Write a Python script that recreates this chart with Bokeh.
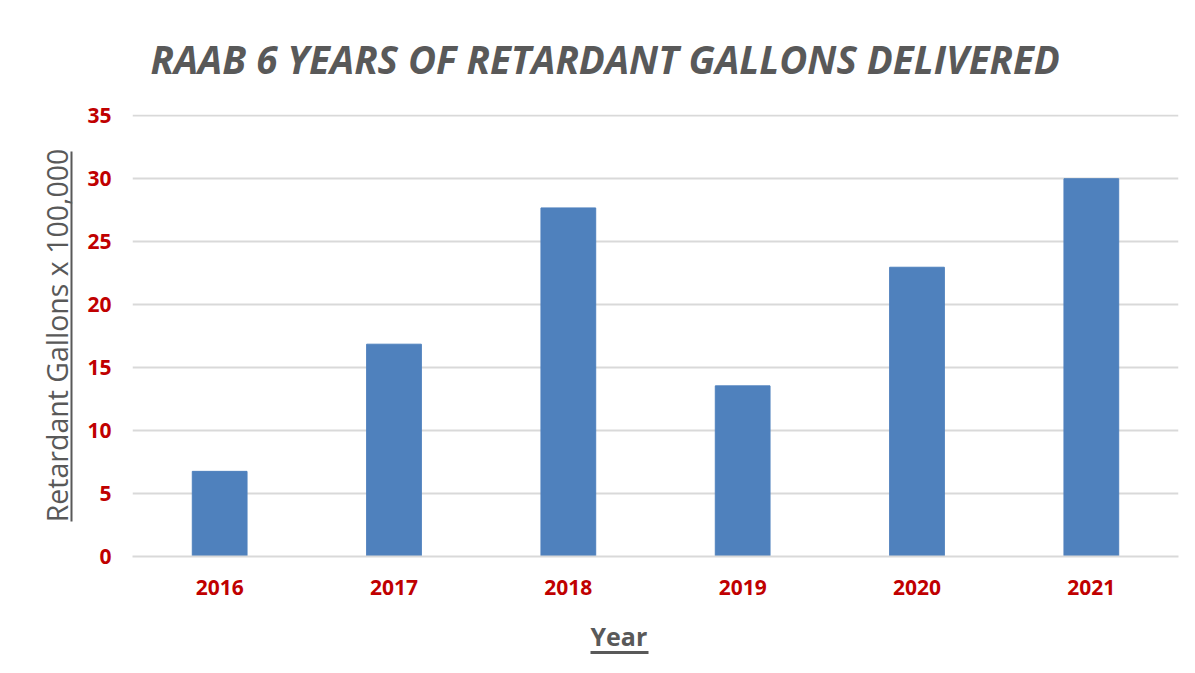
from bokeh.plotting import figure
from bokeh.models import FactorRange, Range1d, FixedTicker, LinearAxis, Title
from bokeh.embed import file_html
from bokeh.resources import INLINE

years = ["2016", "2017", "2018", "2019", "2020", "2021"]
gallons = [6.76, 16.86, 27.68, 13.55, 22.97, 30.0]
y_ticks = [0, 5, 10, 15, 20, 25, 30, 35]

title_text = "RAAB 6 YEARS OF RETARDANT GALLONS DELIVERED"
y_label = "Retardant Gallons x 100,000"
x_label = "Year"

BAR = "#4F81BD"
GRID = "#D9D9D9"
RED = "#C00000"
GRAY = "#595959"
TFONT = "'Liberation Sans Narrow', 'Open Sans', sans-serif"

p = figure(width=1190, height=668, x_range=FactorRange(*years), y_range=Range1d(0, 35.1),
           output_backend="svg", toolbar_location=None,
           min_border_left=132, min_border_right=12, min_border_top=114, min_border_bottom=112)
p.outline_line_color = None
p.background_fill_color = "white"
p.border_fill_color = "white"
p.extra_y_ranges = {"ul": Range1d(0, 35.1)}

p.vbar(x=years, top=gallons, width=0.314, fill_color=BAR, line_color=BAR, line_width=1)

p.ygrid.ticker = FixedTicker(ticks=y_ticks)
p.yaxis.ticker = FixedTicker(ticks=y_ticks)
p.ygrid.grid_line_color = GRID
p.ygrid.grid_line_width = 2
p.xgrid.grid_line_color = None

for ax in (p.xaxis, p.yaxis):
    ax.major_tick_line_color = None
    ax.minor_tick_line_color = None
    ax.major_tick_out = 0
    ax.major_tick_in = 0
    ax.major_label_text_color = RED
    ax.major_label_text_font = "Open Sans"
    ax.major_label_text_font_style = "bold"
    ax.major_label_text_font_size = "21px"
p.yaxis.axis_line_color = None
p.xaxis.axis_line_color = GRID
p.xaxis.axis_line_width = 2
p.yaxis.major_label_standoff = 21
p.xaxis.major_label_standoff = 23


def spacer_axis(gap, **kw):
    # an empty axis used only to leave a gap between panels
    return LinearAxis(ticker=FixedTicker(ticks=[]), axis_line_color=None,
                      major_tick_out=0, major_tick_in=0, major_tick_line_color=None,
                      minor_tick_line_color=None, axis_label=" ",
                      axis_label_text_font_size="2px", axis_label_standoff=gap, **kw)


p.add_layout(spacer_axis(8, y_range_name="ul"), "left")

# y label with its underline (axis rule limited by bounds)
yl = LinearAxis(y_range_name="ul", ticker=FixedTicker(ticks=[]), bounds=(2.76, 32.19),
                axis_line_color=GRAY, axis_line_width=2,
                major_tick_out=0, major_tick_in=0, major_tick_line_color=None,
                minor_tick_line_color=None,
                axis_label=y_label, axis_label_standoff=-4,
                axis_label_text_font="Open Sans", axis_label_text_font_style="normal",
                axis_label_text_font_size="28.5px", axis_label_text_color=GRAY)
p.add_layout(yl, "left")

# chart title
p.title.text = title_text
p.title.align = "left"
p.title.offset = 18
p.title.standoff = 60
p.title.text_font = TFONT
p.title.text_font_style = "bold italic"
p.title.text_font_size = "38.5px"
p.title.text_color = GRAY

# x label and its underline
p.add_layout(spacer_axis(14), "below")
p.add_layout(Title(text=x_label, align="left", offset=458, standoff=0,
                   text_font="Open Sans", text_font_style="bold",
                   text_font_size="25px", text_color=GRAY), "below")
xl = LinearAxis(ticker=FixedTicker(ticks=[]), bounds=(2.627, 2.96),
                axis_line_color=GRAY, axis_line_width=3,
                major_tick_out=0, major_tick_in=0, major_tick_line_color=None,
                minor_tick_line_color=None)
p.add_layout(xl, "below")

open("out.html", "w").write(file_html(p, INLINE))
